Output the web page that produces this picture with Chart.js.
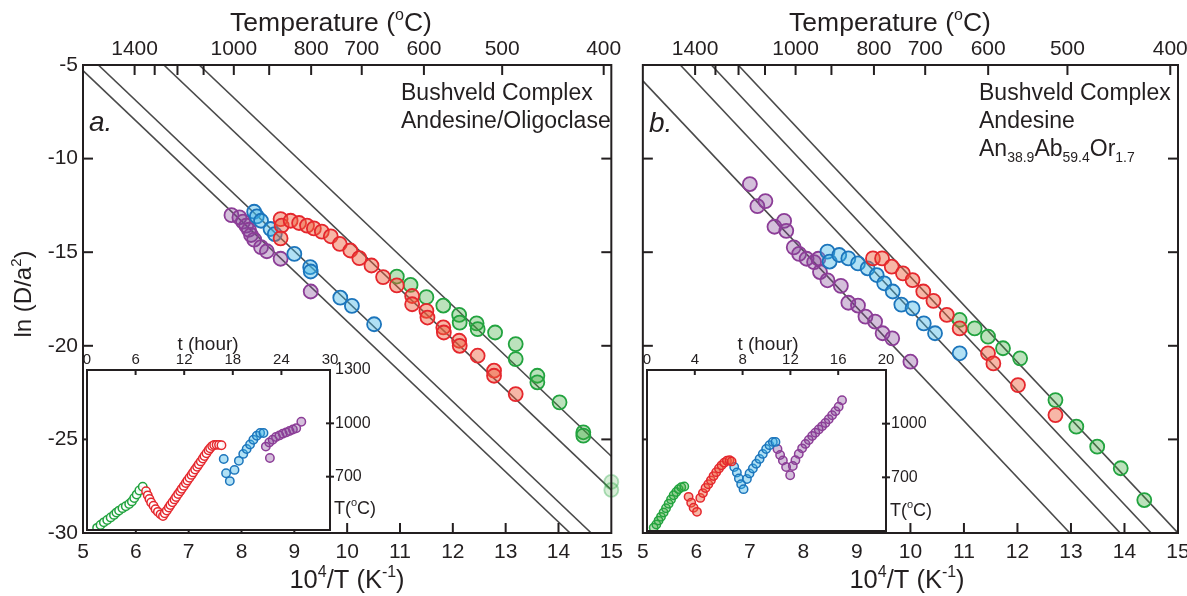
<!DOCTYPE html>
<html>
<head>
<meta charset="utf-8">
<script src="https://cdn.jsdelivr.net/npm/chart.js@4.4.0/dist/chart.umd.min.js"></script>
<style>
  html, body { margin: 0; padding: 0; background: #fff; }
  #wrap { position: relative; width: 1187px; height: 596px; overflow: hidden; background: #fff; }
  #wrap canvas { position: absolute; }
</style>
</head>
<body>
<div id="wrap">
  <canvas id="mainA" width="630" height="596" style="left:0;top:0"></canvas>
  <canvas id="mainB" width="570" height="596" style="left:630px;top:0"></canvas>
  <canvas id="insetA" width="330" height="240" style="left:60px;top:322px"></canvas>
  <canvas id="insetB" width="330" height="240" style="left:620px;top:322px"></canvas>
</div>
<script>
// axis ticks
const invTicks = [5, 6, 7, 8, 9, 10, 11, 12, 13, 14, 15];
const lnTicks = [-30, -25, -20, -15, -10, -5];
const tempTicks = [1400, 1300, 1200, 1100, 1000, 900, 800, 700, 600, 500, 400];
const tempShown = [1400, 1000, 800, 700, 600, 500, 400];
const hourTicksA = [0, 6, 12, 18, 24, 30];
const hourTicksB = [0, 4, 8, 12, 16, 20];
const stepTempA = [700, 1000, 1300];
const stepTempB = [700, 1000];

// panel a: [10^4/T, ln(D/a^2)]
const aPurple = [[7.81, -13.02], [7.96, -13.14], [8.03, -13.37], [8.09, -13.58], [8.14, -13.8], [8.18, -14.08],
  [8.24, -14.33], [8.37, -14.73], [8.48, -14.95], [8.74, -15.35], [9.31, -17.1]];
const aBlue = [[8.24, -12.84], [8.29, -13.09], [8.37, -13.32], [8.55, -13.76], [8.63, -14.03], [9.0, -15.09],
  [9.3, -15.8], [9.31, -16.03], [9.87, -17.43], [10.09, -17.87], [10.51, -18.85]];
const aRed = [[8.74, -13.23], [8.76, -13.58], [8.74, -14.26], [8.93, -13.32], [9.09, -13.44], [9.24, -13.58],
  [9.37, -13.73], [9.52, -13.9], [9.69, -14.15], [9.86, -14.56], [10.06, -14.91], [10.23, -15.32],
  [10.46, -15.71], [10.68, -16.33], [10.94, -16.77], [11.23, -17.34], [11.23, -17.78], [11.5, -18.13],
  [11.52, -18.49], [11.82, -19.02], [11.83, -19.29], [12.12, -19.73], [12.13, -20.0], [12.47, -20.53],
  [12.78, -21.33], [12.78, -21.6], [13.19, -22.58]];
const aGreen = [[10.94, -16.3], [11.2, -16.75], [11.5, -17.4], [11.82, -17.85], [12.12, -18.35], [12.13, -18.76],
  [12.45, -18.8], [12.47, -19.11], [12.8, -19.29], [13.19, -19.91], [13.19, -20.71], [13.6, -21.6],
  [13.6, -21.95], [14.02, -23.02], [14.47, -24.62], [14.47, -24.8]];
const aGreenEdge = [[15.0, -27.27], [15.0, -27.7]];
const aGuides = [
  [[5.0, -5.3], [14.22, -30]],
  [[5.29, -5], [14.62, -30]],
  [[6.53, -5], [15, -27.7]],
  [[7.2, -5], [15, -25.9]]
];

// panel b: [10^4/T, ln(D/a^2)]
const bPurple = [[7.0, -11.36], [7.14, -12.54], [7.29, -12.27], [7.46, -13.64], [7.64, -13.33], [7.68, -13.86],
  [7.82, -14.74], [7.92, -15.09], [8.06, -15.35], [8.2, -15.53], [8.28, -15.35], [8.31, -16.06],
  [8.45, -16.5], [8.7, -16.8], [8.84, -17.7], [9.02, -17.85], [9.16, -18.44], [9.34, -18.71],
  [9.48, -19.33], [9.66, -19.6], [10.0, -20.85]];
const bBlue = [[8.45, -14.97], [8.49, -15.5], [8.67, -15.15], [8.84, -15.33], [9.02, -15.6], [9.2, -15.86],
  [9.37, -16.22], [9.51, -16.66], [9.67, -17.1], [9.83, -17.8], [10.04, -18.0], [10.25, -18.8],
  [10.46, -19.33], [10.92, -20.4]];
const bRed = [[9.3, -15.33], [9.47, -15.33], [9.65, -15.77], [9.86, -16.13], [10.04, -16.49], [10.24, -17.1],
  [10.43, -17.6], [10.68, -18.35], [10.92, -19.07], [11.45, -20.4], [11.55, -20.94], [12.01, -22.1],
  [12.71, -23.7]];
const bGreen = [[10.92, -18.62], [11.2, -19.07], [11.45, -19.51], [11.73, -20.13], [12.05, -20.67],
  [12.71, -22.9], [13.1, -24.32], [13.49, -25.39], [13.93, -26.54], [14.37, -28.24]];
const bGuides = [
  [[5.0, -5.85], [12.98, -30]],
  [[5.7, -5], [13.92, -30]],
  [[6.28, -5], [14.5, -30]],
  [[6.78, -5], [15, -30]]
];

// heating schedules: [hour, T in °C]
const iaGreen = [[1.25, 412], [1.67, 428], [2.08, 443], [2.5, 456], [2.92, 471], [3.33, 485], [3.63, 498],
  [3.96, 509], [4.38, 523], [4.79, 534], [5.21, 546], [5.54, 561], [5.83, 580], [6.13, 599], [6.46, 622], [6.88, 643]];
const iaRed = [[7.29, 618], [7.5, 595], [7.71, 574], [7.92, 555], [8.21, 536], [8.46, 517], [8.75, 502],
  [9.08, 488], [9.38, 479], [9.6, 494], [9.85, 510], [10.1, 526], [10.3, 540], [10.55, 556], [10.8, 572],
  [11.0, 586], [11.25, 602], [11.5, 618], [11.7, 632], [11.95, 648], [12.2, 664], [12.4, 678], [12.65, 694],
  [12.9, 710], [13.1, 724], [13.35, 740], [13.6, 756], [13.8, 770], [14.05, 786], [14.3, 802], [14.5, 816],
  [14.75, 832], [15.0, 848], [15.2, 860], [15.45, 872], [15.7, 878], [16.0, 879], [16.3, 879], [16.6, 877]];
const iaBlue = [[16.88, 799], [17.17, 719], [17.63, 675], [18.21, 738], [18.75, 789], [19.29, 828],
  [19.71, 856], [20.13, 881], [20.54, 908], [20.96, 930], [21.38, 946], [21.79, 946]];
const iaPurple = [[22.08, 869], [22.58, 805], [22.5, 892], [22.92, 908], [23.33, 923], [23.75, 932],
  [24.17, 942], [24.58, 949], [25.0, 957], [25.42, 965], [25.83, 972], [26.46, 1009]];

const ibGreen = [[0.56, 418], [0.78, 436], [0.97, 458], [1.17, 479], [1.39, 503], [1.59, 527], [1.81, 552],
  [2.01, 576], [2.23, 600], [2.45, 618], [2.65, 634], [2.87, 645], [3.12, 649]];
const ibRed = [[3.48, 591], [3.7, 558], [3.9, 530], [4.18, 507], [4.46, 585], [4.68, 612], [4.9, 640],
  [5.13, 661], [5.35, 683], [5.57, 707], [5.79, 729], [6.02, 749], [6.24, 767], [6.46, 782], [6.69, 793],
  [6.91, 796], [7.08, 789]];
const ibBlue = [[7.3, 758], [7.52, 727], [7.69, 694], [7.88, 661], [8.08, 634], [8.36, 691], [8.58, 722],
  [8.86, 749], [9.14, 776], [9.42, 803], [9.69, 831], [9.97, 858], [10.25, 880], [10.53, 898], [10.75, 898]];
const ibPurple = [[10.92, 858], [11.14, 825], [11.37, 794], [11.64, 758], [11.98, 712], [12.2, 763],
  [12.42, 796], [12.7, 831], [12.98, 862], [13.26, 887], [13.54, 909], [13.82, 931], [14.09, 949],
  [14.37, 967], [14.65, 985], [14.93, 1004], [15.21, 1025], [15.49, 1047], [15.77, 1069], [16.04, 1095],
  [16.32, 1131]];

const FONT = "'Liberation Sans', Arial, Helvetica, sans-serif";
const INK = '#231f20';
Chart.defaults.font.family = FONT;
Chart.defaults.color = INK;

const pal = {
  red:    { line: '#e5272d', fill: 'rgba(238,96,60,0.45)' },
  blue:   { line: '#1c75bc', fill: 'rgba(60,180,230,0.40)' },
  purple: { line: '#8c3d97', fill: 'rgba(130,70,150,0.34)' },
  green:  { line: '#22a33f', fill: 'rgba(60,170,60,0.34)' }
};

const toXY = pairs => pairs.map(p => ({ x: p[0], y: p[1] }));
const plain = v => String(v);

function dots(pairs, line, fill, r, bw, order) {
  return {
    type: 'scatter', data: toXY(pairs), showLine: false,
    pointRadius: r, pointHoverRadius: r, pointBorderWidth: bw,
    borderColor: line, backgroundColor: fill,
    pointBorderColor: line, pointBackgroundColor: fill,
    order: order
  };
}

function guide(pts) {
  return {
    type: 'line', data: toXY(pts), showLine: true, pointRadius: 0, tension: 0,
    borderColor: '#4a4a4a', borderWidth: 1.6, clip: 0, order: 9
  };
}

// rich text with super/subscripts, drawn at the current origin
function rich(ctx, segs, size, align, italic) {
  const fontOf = s => (italic ? 'italic ' : '') + ((s.sup || s.sub) ? Math.round(size * 0.62) : size) + 'px ' + FONT;
  let total = 0;
  segs.forEach(s => { ctx.font = fontOf(s); total += ctx.measureText(s.t).width; });
  let x = align === 'center' ? -total / 2 : 0;
  segs.forEach(s => {
    ctx.font = fontOf(s);
    const dy = s.sup ? -0.42 * size : (s.sub ? 0.24 * size : 0);
    ctx.fillText(s.t, x, dy);
    x += ctx.measureText(s.t).width;
  });
}

function captions(items) {
  return {
    id: 'captions',
    afterDraw(chart) {
      const ctx = chart.ctx;
      items.forEach(it => {
        ctx.save();
        ctx.fillStyle = INK;
        ctx.textBaseline = 'alphabetic';
        ctx.textAlign = 'left';
        ctx.translate(it.x, it.y);
        if (it.rotate) ctx.rotate(it.rotate);
        rich(ctx, it.segs, it.size, it.align || 'left', it.italic);
        ctx.restore();
      });
    }
  };
}

// box around the plot area plus tick marks (inner/outer lengths)
function frame(marks, whiteArea, lw) {
  return {
    id: 'frame',
    beforeDatasetsDraw(chart) {
      if (!whiteArea) return;
      const a = chart.chartArea, ctx = chart.ctx;
      ctx.save();
      ctx.fillStyle = '#fff';
      ctx.fillRect(a.left, a.top, a.width, a.height);
      ctx.restore();
    },
    afterDatasetsDraw(chart) {
      const a = chart.chartArea, ctx = chart.ctx;
      ctx.save();
      ctx.strokeStyle = INK;
      ctx.lineWidth = lw;
      marks.forEach(m => {
        const sc = chart.scales[m.scale];
        sc.ticks.forEach(t => {
          const p = sc.getPixelForValue(t.value);
          const lo = sc.isHorizontal() ? a.left : a.top;
          const hi = sc.isHorizontal() ? a.right : a.bottom;
          if (p <= lo + 1 || p >= hi - 1) return;
          ctx.beginPath();
          if (m.side === 'bottom') { ctx.moveTo(p, a.bottom - m.inner); ctx.lineTo(p, a.bottom + m.outer); }
          if (m.side === 'top') { ctx.moveTo(p, a.top + m.inner); ctx.lineTo(p, a.top - m.outer); }
          if (m.side === 'left') { ctx.moveTo(a.left + m.inner, p); ctx.lineTo(a.left - m.outer, p); }
          if (m.side === 'right') { ctx.moveTo(a.right - m.inner, p); ctx.lineTo(a.right + m.outer, p); }
          ctx.stroke();
        });
      });
      ctx.strokeRect(a.left, a.top, a.width, a.height);
      ctx.restore();
    }
  };
}

const hidden = { display: false, drawTicks: false };
const noBorder = { display: false };

function mainChart(id, sets, guides, leftWidth, showY, rightPad, texts) {
  const datasets = [
    dots(sets.red, pal.red.line, pal.red.fill, 7, 1.8, 1),
    dots(sets.green, pal.green.line, pal.green.fill, 7, 1.8, 2),
    dots(sets.blue, pal.blue.line, pal.blue.fill, 7, 1.8, 3),
    dots(sets.purple, pal.purple.line, pal.purple.fill, 7, 1.8, 4)
  ];
  if (sets.edge) {
    const faint = dots(sets.edge, 'rgba(34,163,63,0.35)', 'rgba(60,170,60,0.2)', 7, 1.8, 2);
    faint.clip = false;
    datasets.push(faint);
  }
  guides.forEach(g => datasets.push(guide(g)));

  return new Chart(document.getElementById(id), {
    type: 'scatter',
    data: { datasets },
    options: {
      responsive: false, animation: false, devicePixelRatio: 1,
      layout: { padding: { left: 0, right: rightPad, top: 0, bottom: 0 } },
      plugins: { legend: { display: false }, tooltip: { enabled: false } },
      scales: {
        x: {
          type: 'linear', position: 'bottom', min: 5, max: 15,
          afterBuildTicks: s => { s.ticks = invTicks.map(v => ({ value: v })); },
          ticks: { font: { size: 21 }, padding: 7, maxRotation: 0, autoSkip: false, color: INK, callback: plain },
          grid: hidden, border: noBorder,
          afterFit: s => { s.height = 63; }
        },
        xTop: {
          type: 'linear', position: 'top', min: 5, max: 15,
          afterBuildTicks: s => { s.ticks = tempTicks.map(t => ({ value: 1e4 / (t + 273.15) })); },
          ticks: {
            font: { size: 21 }, padding: 3, maxRotation: 0, autoSkip: false, color: INK,
            callback: (v, i) => tempShown.includes(tempTicks[i]) ? String(tempTicks[i]) : ''
          },
          grid: hidden, border: noBorder,
          afterFit: s => { s.height = 65; }
        },
        y: {
          type: 'linear', position: 'left', min: -30, max: -5,
          afterBuildTicks: s => { s.ticks = lnTicks.map(v => ({ value: v })); },
          ticks: { display: showY, font: { size: 21 }, padding: 5, autoSkip: false, color: INK, callback: plain },
          grid: hidden, border: noBorder,
          afterFit: s => { s.width = leftWidth; }
        }
      }
    },
    plugins: [
      frame([
        { scale: 'x', side: 'bottom', inner: 10, outer: 0 },
        { scale: 'xTop', side: 'top', inner: 10, outer: 0 },
        { scale: 'y', side: 'left', inner: 10, outer: 0 },
        { scale: 'y', side: 'right', inner: 10, outer: 0 }
      ], false, 2),
      captions(texts)
    ]
  });
}

function insetChart(id, sets, hourTicks, hourMax, tempLabels, rightWidth, bottomPad, hollow, texts) {
  const f = c => hollow ? 'rgba(255,255,255,0.9)' : c;
  const datasets = [
    dots(sets.red, pal.red.line, f(pal.red.fill), 4.2, 1.5, 1),
    dots(sets.green, pal.green.line, f(pal.green.fill), 4.2, 1.5, 2),
    dots(sets.blue, pal.blue.line, pal.blue.fill, 4.2, 1.5, 3),
    dots(sets.purple, pal.purple.line, pal.purple.fill, 4.2, 1.5, 4)
  ];
  return new Chart(document.getElementById(id), {
    type: 'scatter',
    data: { datasets },
    options: {
      responsive: false, animation: false, devicePixelRatio: 1,
      layout: { padding: { left: 27, right: 0, top: 0, bottom: bottomPad } },
      plugins: { legend: { display: false }, tooltip: { enabled: false } },
      scales: {
        x: {
          type: 'linear', position: 'top', min: 0, max: hourMax,
          afterBuildTicks: s => { s.ticks = hourTicks.map(v => ({ value: v })); },
          ticks: { font: { size: 15 }, padding: 1, maxRotation: 0, autoSkip: false, color: INK, callback: plain },
          grid: hidden, border: noBorder,
          afterFit: s => { s.height = 48; }
        },
        y: {
          type: 'linear', position: 'right', min: 400, max: 1300,
          afterBuildTicks: s => { s.ticks = tempLabels.map(v => ({ value: v })); },
          ticks: { font: { size: 16 }, padding: 5, autoSkip: false, color: INK, callback: plain },
          grid: hidden, border: noBorder,
          afterFit: s => { s.width = rightWidth; }
        }
      }
    },
    plugins: [
      frame([
        { scale: 'x', side: 'top', inner: 5, outer: 0 },
        { scale: 'y', side: 'right', inner: 4, outer: 4 }
      ], true, 2),
      captions(texts)
    ]
  });
}

const tempTitle = [{ t: 'Temperature (' }, { t: 'o', sup: true }, { t: 'C)' }];
const invTitle = [{ t: '10' }, { t: '4', sup: true }, { t: '/T (K' }, { t: '-1', sup: true }, { t: ')' }];
const lnTitle = [{ t: 'ln (D/a' }, { t: '2', sup: true }, { t: ')' }];
const tLabel = [{ t: 'T(' }, { t: 'o', sup: true }, { t: 'C)' }];

mainChart('mainA', { red: aRed, green: aGreen, blue: aBlue, purple: aPurple, edge: aGreenEdge }, aGuides, 83, true, 13, [
  { segs: tempTitle, x: 331, y: 31, size: 26.5, align: 'center' },
  { segs: invTitle, x: 347, y: 588, size: 25.5, align: 'center' },
  { segs: lnTitle, x: 31, y: 294, size: 24, align: 'center', rotate: -Math.PI / 2 },
  { segs: [{ t: 'a.' }], x: 89, y: 131, size: 28, italic: true },
  { segs: [{ t: 'Bushveld Complex' }], x: 401, y: 99.5, size: 23 },
  { segs: [{ t: 'Andesine/Oligoclase' }], x: 401, y: 127.5, size: 23 }
]);

mainChart('mainB', { red: bRed, green: bGreen, blue: bBlue, purple: bPurple }, bGuides, 12, false, 22, [
  { segs: tempTitle, x: 260, y: 31, size: 26.5, align: 'center' },
  { segs: invTitle, x: 277, y: 588, size: 25.5, align: 'center' },
  { segs: [{ t: 'b.' }], x: 19, y: 132, size: 28, italic: true },
  { segs: [{ t: 'Bushveld Complex' }], x: 349, y: 100, size: 23 },
  { segs: [{ t: 'Andesine' }], x: 349, y: 128, size: 23 },
  { segs: [{ t: 'An' }, { t: '38.9', sub: true }, { t: 'Ab' }, { t: '59.4', sub: true }, { t: 'Or' }, { t: '1.7', sub: true }],
    x: 349, y: 156, size: 23 }
]);

insetChart('insetA', { red: iaRed, green: iaGreen, blue: iaBlue, purple: iaPurple }, hourTicksA, 30, stepTempA, 60, 32, true, [
  { segs: [{ t: 't (hour)' }], x: 148, y: 28, size: 19, align: 'center' },
  { segs: tLabel, x: 274, y: 192, size: 18 }
]);

insetChart('insetB', { red: ibRed, green: ibGreen, blue: ibBlue, purple: ibPurple }, hourTicksB, 20, stepTempB, 64, 31, false, [
  { segs: [{ t: 't (hour)' }], x: 148, y: 28, size: 19, align: 'center' },
  { segs: tLabel, x: 270, y: 194, size: 18 }
]);
</script>
</body>
</html>
